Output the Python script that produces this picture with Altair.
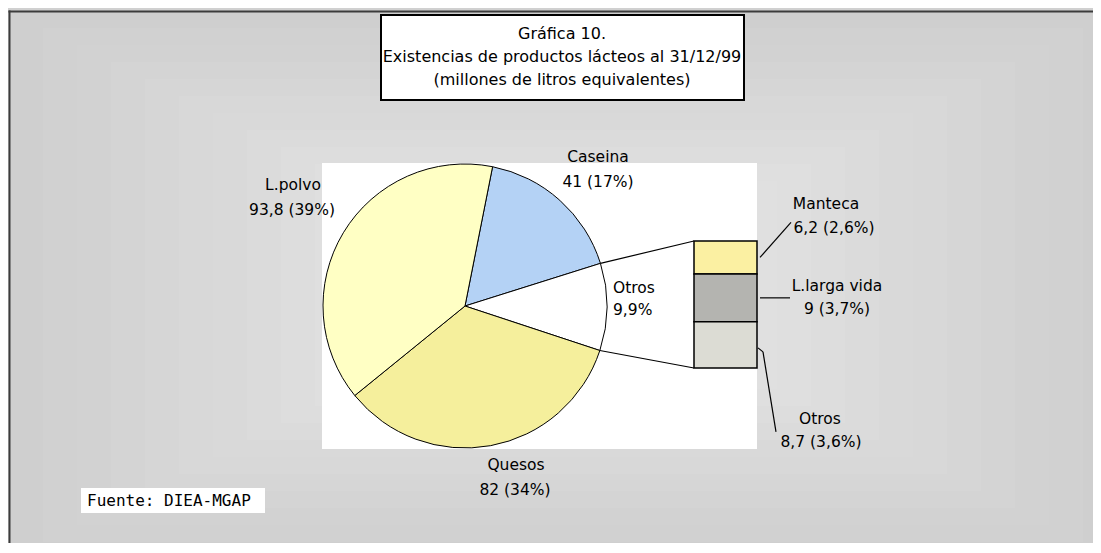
import math
import altair as alt
import pandas as pd

# ---------------- data ----------------
pie_names = ["Caseina", "Otros", "Quesos", "L.polvo"]
pie_values = [41.0, 23.9, 82.0, 93.8]
pie_pcts = ["17%", "9,9%", "34%", "39%"]
pie_colors = ["#b4d2f5", "#ffffff", "#f5ef9c", "#ffffc4"]

bar_names = ["Manteca", "L.larga vida", "Otros"]
bar_values = [6.2, 9.0, 8.7]
bar_pcts = ["2,6%", "3,7%", "3,6%"]
bar_colors = ["#fbf0a2", "#b4b4b0", "#dcdcd4"]

title_lines = ["Gráfica 10.",
               "Existencias de productos lácteos al 31/12/99",
               "(millones de litros equivalentes)"]
source_text = "Fuente: DIEA-MGAP"


def fmt(v):
    return f"{v:g}".replace(".", ",")


# ---------------- layout ----------------
W, H = 1085, 535
CX, CY, R = 457, 298, 142
START = math.radians(11.2)
BAR_X0, BAR_X1 = 686, 749
BAR_TOP, BAR_BOT = 233, 360
FONT = "DejaVu Sans"
FS = 15.5

pie_total = sum(pie_values)
bar_total = sum(bar_values)

# background bands (rectangular gradient) + frame edges as filled strips
bands = []
n = 16
c0, c1 = 0xCF, 0xE9
for i in range(n):
    v = int(round(c0 + (c1 - c0) * i / (n - 1)))
    bands.append({"x": 1 + 34 * i, "x2": W + 24 - 34 * i,
                  "y": 3 + 17 * i, "y2": H + 16 - 17 * i,
                  "c": "#%02x%02x%02x" % (v, v, v)})
bands.append({"x": 0.5, "x2": 2.5, "y": 2.5, "y2": H + 20, "c": "#3c3c3c"})
bands.append({"x": 0.5, "x2": W + 20, "y": 2.5, "y2": 4.5, "c": "#3c3c3c"})
bands_df = pd.DataFrame(bands)

bg = alt.Chart(bands_df).mark_rect(strokeWidth=0).encode(
    x=alt.X("x:Q", scale=None), x2="x2", y=alt.Y("y:Q", scale=None), y2="y2",
    fill=alt.Fill("c:N", scale=None))

plot_area = alt.Chart(pd.DataFrame({"a": [0]})).mark_rect(fill="white").encode(
    x=alt.value(314), x2=alt.value(749), y=alt.value(155), y2=alt.value(441))

title_box = alt.Chart(pd.DataFrame({"a": [0]})).mark_rect(
    fill="white", stroke="black", strokeWidth=2).encode(
    x=alt.value(373), x2=alt.value(736), y=alt.value(7), y2=alt.value(92))

title_df = pd.DataFrame({"t": title_lines, "y": [26, 49, 72]})
title_txt = alt.Chart(title_df).mark_text(
    font=FONT, fontSize=16, color="black", align="center", baseline="middle").encode(
    x=alt.value(554), y=alt.Y("y:Q", scale=None), text="t:N")

src_box = alt.Chart(pd.DataFrame({"a": [0]})).mark_rect(fill="white").encode(
    x=alt.value(73), x2=alt.value(257), y=alt.value(480), y2=alt.value(505))
src_txt = alt.Chart(pd.DataFrame({"t": [source_text]})).mark_text(
    font="DejaVu Sans Mono", fontSize=16, color="black", align="left",
    baseline="middle").encode(x=alt.value(79), y=alt.value(493), text="t:N")

# pie
pie_df = pd.DataFrame({"name": pie_names, "value": pie_values,
                       "color": pie_colors, "ord": list(range(len(pie_names)))})
pie = alt.Chart(pie_df).mark_arc(radius=R, stroke="black", strokeWidth=1).encode(
    theta=alt.Theta("value:Q", stack=True,
                    scale=alt.Scale(range=[START, START + 2 * math.pi])),
    order=alt.Order("ord:Q"),
    fill=alt.Fill("color:N", scale=None),
    x=alt.value(CX), y=alt.value(CY))

# bar of pie
bar_df = pd.DataFrame({"name": bar_names, "value": bar_values,
                       "color": bar_colors, "ord": list(range(len(bar_names)))})
bar = alt.Chart(bar_df).transform_stack(
    stack="value", groupby=[], as_=["y0", "y1"],
    sort=[alt.SortField("ord", order="descending")]
).mark_rect(stroke="black", strokeWidth=1.5).encode(
    x=alt.value(BAR_X0), x2=alt.value(BAR_X1),
    y=alt.Y("y0:Q", scale=alt.Scale(domain=[0, bar_total], range=[BAR_BOT, BAR_TOP]),
            axis=None),
    y2="y1:Q",
    fill=alt.Fill("color:N", scale=None))

# connectors (derived from pie angles)
a_top = START + 2 * math.pi * pie_values[0] / pie_total
a_bot = a_top + 2 * math.pi * pie_values[1] / pie_total
pt = (CX + R * math.sin(a_top), CY - R * math.cos(a_top))
pb = (CX + R * math.sin(a_bot), CY - R * math.cos(a_bot))


def ypix(v):
    return BAR_BOT - v / bar_total * (BAR_BOT - BAR_TOP)


mid_o = ypix(bar_values[2] / 2)
mid_l = ypix(bar_values[2] + bar_values[1] / 2)
mid_m = ypix(bar_values[2] + bar_values[1] + bar_values[0] / 2)

segs = [
    (pt[0], pt[1], BAR_X0, BAR_TOP),
    (pb[0], pb[1], BAR_X0, BAR_BOT),
    (BAR_X1 + 3, mid_m, BAR_X1 + 34, mid_m - 35),
    (BAR_X1 + 3, mid_l, BAR_X1 + 33, mid_l),
    (BAR_X1 + 1, mid_o + 3, BAR_X1 + 6, mid_o + 7),
    (BAR_X1 + 6, mid_o + 7, BAR_X1 + 19, mid_o + 87),
]
seg_df = pd.DataFrame(segs, columns=["x", "y", "x2", "y2"])
lines = alt.Chart(seg_df).mark_rule(color="black", strokeWidth=1.2).encode(
    x=alt.X("x:Q", scale=None), y=alt.Y("y:Q", scale=None), x2="x2", y2="y2")

# labels
lab_text = [
    pie_names[0], f"{fmt(pie_values[0])} ({pie_pcts[0]})",
    pie_names[2], f"{fmt(pie_values[2])} ({pie_pcts[2]})",
    pie_names[3], f"{fmt(pie_values[3])} ({pie_pcts[3]})",
    bar_names[0], f"{fmt(bar_values[0])} ({bar_pcts[0]})",
    bar_names[1], f"{fmt(bar_values[1])} ({bar_pcts[1]})",
    bar_names[2], f"{fmt(bar_values[2])} ({bar_pcts[2]})",
]
lab_pos = [
    (590, 149), (590, 174),
    (508, 457), (507, 482),
    (285, 177), (284, 202),
    (818, 196), (826, 220),
    (829, 278), (829, 301),
    (812, 411), (813, 434),
]
lab_df = pd.DataFrame({"t": lab_text, "x": [p[0] for p in lab_pos],
                       "y": [p[1] for p in lab_pos]})
labels = alt.Chart(lab_df).mark_text(
    font=FONT, fontSize=FS, color="black", align="center", baseline="middle").encode(
    x=alt.X("x:Q", scale=None), y=alt.Y("y:Q", scale=None), text="t:N")

otros_df = pd.DataFrame({"t": [pie_names[1], pie_pcts[1]], "y": [280, 302]})
otros_lab = alt.Chart(otros_df).mark_text(
    font=FONT, fontSize=FS, color="black", align="left", baseline="middle").encode(
    x=alt.value(605), y=alt.Y("y:Q", scale=None), text="t:N")

chart = alt.layer(
    bg, plot_area, title_box, title_txt, src_box, src_txt,
    pie, lines, bar, labels, otros_lab
).resolve_scale(x="independent", y="independent").properties(
    width=W, height=H, autosize=alt.AutoSizeParams(type="none"), padding=0,
    background="#d0d0d0"
).configure_view(stroke="transparent", strokeWidth=0)

chart.save("out.html", embed_options={"renderer": "svg", "actions": False})
